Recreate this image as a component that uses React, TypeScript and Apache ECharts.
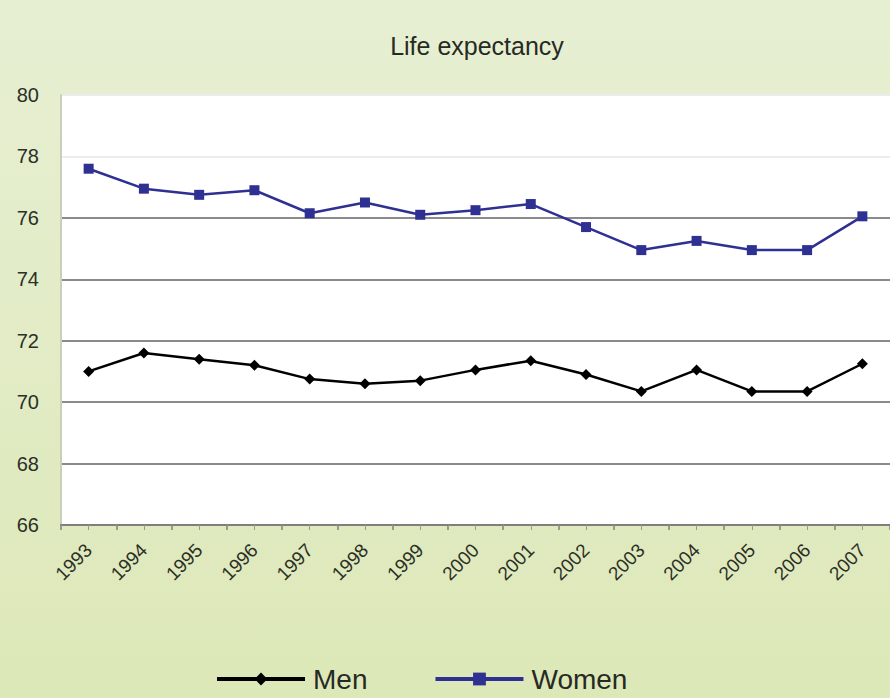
import React, { useEffect, useRef } from "react";
import * as echarts from "echarts";

const years = ["1993","1994","1995","1996","1997","1998","1999","2000","2001","2002","2003","2004","2005","2006","2007"];
const men = [71.0, 71.6, 71.4, 71.2, 70.75, 70.6, 70.7, 71.05, 71.35, 70.9, 70.35, 71.05, 70.35, 70.35, 71.25];
const women = [77.6, 76.95, 76.75, 76.9, 76.15, 76.5, 76.1, 76.25, 76.45, 75.7, 74.95, 75.25, 74.95, 74.95, 76.05];
const yMin = 66;
const yMax = 80;
const yStep = 2;

export default function App() {
  const ref = useRef<HTMLDivElement>(null);
  useEffect(() => {
    if (!ref.current) return;
    const chart = echarts.init(ref.current, undefined, { renderer: "svg" });
    const font = "Liberation Sans, Arial, sans-serif";
    chart.setOption({
      animation: false,
      backgroundColor: {
        type: "linear", x: 0, y: 0, x2: 0, y2: 1,
        colorStops: [
          { offset: 0, color: "#e7efd3" },
          { offset: 1, color: "#dde8b8" },
        ],
      },
      title: {
        text: "Life expectancy",
        left: 472,
        textAlign: "center",
        top: 28,
        textStyle: { fontFamily: font, fontSize: 25, fontWeight: "normal", color: "#262a22" },
      },
      grid: {
        left: 61, top: 95, width: 840, bottom: 173,
        show: true, backgroundColor: "#ffffff", borderWidth: 0,
      },
      legend: {
        left: 210, top: 660,
        itemWidth: 88, itemHeight: 16, itemGap: 66,
        lineStyle: { width: 4 },
        textStyle: { fontFamily: font, fontSize: 28, color: "#262a22", padding: [0, 0, 0, 3] },
        data: ["Men", "Women"],
      },
      xAxis: [
        {
          type: "category",
          data: years,
          boundaryGap: true,
          axisLine: { lineStyle: { color: "#7f7f7f", width: 2 } },
          axisTick: { show: true, length: 5, lineStyle: { color: "#7f7f7f", width: 1.5 } },
          axisLabel: { rotate: 45, fontFamily: font, fontSize: 19, color: "#2b2f26", margin: 22 },
          splitLine: { show: false },
        },
        {
          type: "value",
          min: 0, max: 15, interval: 0.5,
          position: "bottom",
          axisLine: { show: false },
          axisTick: { show: true, length: 5, lineStyle: { color: "#999", width: 1 } },
          axisLabel: { show: false },
          splitLine: { show: false },
        },
      ],
      yAxis: {
        type: "value",
        min: yMin, max: yMax, interval: yStep,
        axisLine: { show: true, lineStyle: { color: "#c8d0bc", width: 2 } },
        axisTick: { show: false },
        axisLabel: { fontFamily: font, fontSize: 20, color: "#2b2f26", margin: 22 },
        splitLine: {
          show: true,
          lineStyle: {
            color: ["#8a8a8a", "#8a8a8a", "#8a8a8a", "#8a8a8a", "#8a8a8a", "#8a8a8a", "#ececec", "#ececec"],
            width: 2,
          },
        },
      },
      series: [
        {
          name: "Men",
          type: "line",
          data: men,
          symbol: "diamond",
          symbolSize: 11,
          itemStyle: { color: "#000000" },
          lineStyle: { color: "#000000", width: 2.5 },
        },
        {
          name: "Women",
          type: "line",
          data: women,
          symbol: "rect",
          symbolSize: 10,
          itemStyle: { color: "#2e3192" },
          lineStyle: { color: "#2e3192", width: 2.5 },
        },
      ],
    });
    return () => chart.dispose();
  }, []);
  return <div ref={ref} style={{ position: "absolute", left: 0, top: 0, width: 890, height: 698 }} />;
}
